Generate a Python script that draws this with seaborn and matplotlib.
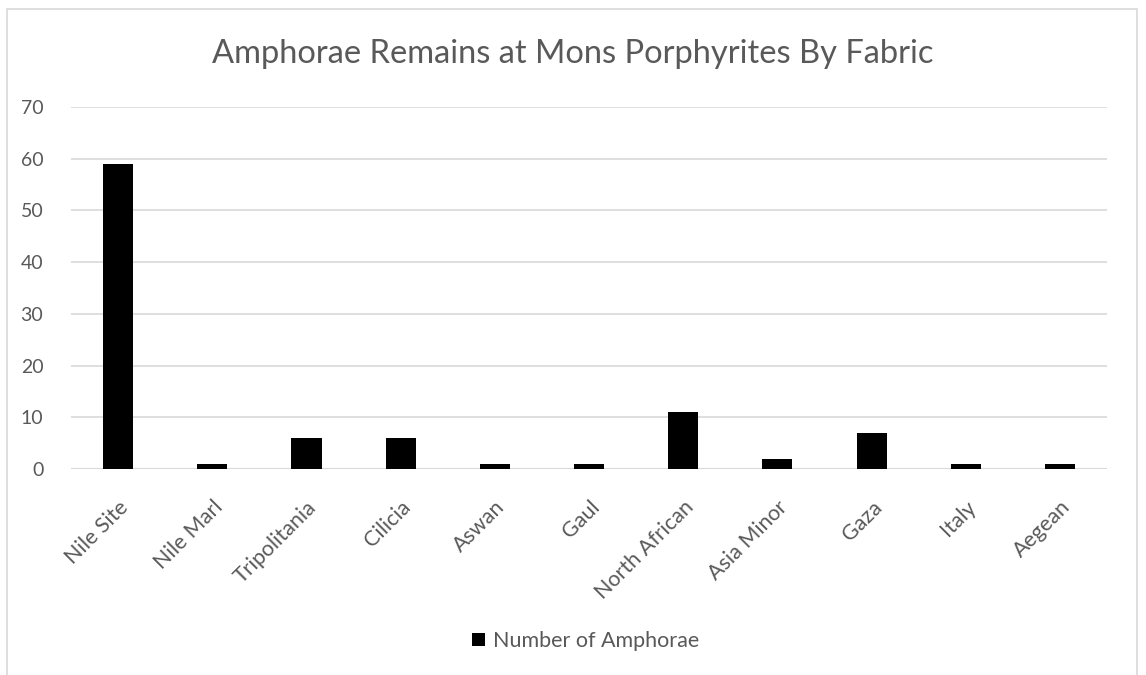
import matplotlib
matplotlib.use("Agg")
import matplotlib.pyplot as plt
import matplotlib.transforms as mtransforms
import seaborn as sns
import pandas as pd
from matplotlib.patches import Rectangle, Patch

categories = ["Nile Site", "Nile Marl", "Tripolitania", "Cilicia", "Aswan", "Gaul",
              "North African", "Asia Minor", "Gaza", "Italy", "Aegean"]
counts = [59, 1, 6, 6, 1, 1, 11, 2, 7, 1, 1]
yticks = [0, 10, 20, 30, 40, 50, 60, 70]
series_name = "Number of Amphorae"
title = "Amphorae Remains at Mons Porphyrites By Fabric"

sns.set_style("white")
plt.rcParams['font.family'] = ['Lato', 'DejaVu Sans']
txt = "#595959"

df = pd.DataFrame({"Fabric": categories, "Count": counts})

fig = plt.figure(figsize=(11.46, 6.75), dpi=100)
ax = fig.add_axes([0.062, 0.305, 0.904, 0.5365])

sns.barplot(data=df, x="Fabric", y="Count", color="black", width=0.32,
            saturation=1, ax=ax, edgecolor="none")

ax.set_ylim(0, 70)
ax.set_xlim(-0.5, len(categories) - 0.5)
ax.set_yticks(yticks)
ax.set_yticklabels([str(v) for v in yticks], fontsize=14, color=txt)
ax.set_xticks(range(len(categories)))
ax.set_xticklabels(categories, rotation=45, ha="right", rotation_mode="anchor",
                   fontsize=15.5, color=txt)
offset = mtransforms.ScaledTranslation(8 / 100, 0, fig.dpi_scale_trans)
for lab in ax.get_xticklabels():
    lab.set_transform(lab.get_transform() + offset)
ax.tick_params(axis="x", length=0, pad=20)
ax.tick_params(axis="y", length=0, pad=20)
ax.set_xlabel("")
ax.set_ylabel("")
ax.yaxis.grid(True, color="#d9d9d9", linewidth=1.2)
ax.set_axisbelow(True)
for s in ax.spines.values():
    s.set_visible(False)
ax.axhline(0, color="#d9d9d9", linewidth=1.5, zorder=0.5)

fig.text(0.5, 1 - 63 / 675, title, ha="center", va="baseline", fontsize=23.5, color=txt)

handle = Patch(facecolor="black", edgecolor="none", label=series_name)
fig.legend(handles=[handle], loc="center", bbox_to_anchor=(0.511, 0.05),
           frameon=False, fontsize=15.5, labelcolor=txt, handlelength=0.6,
           handleheight=0.6, handletextpad=0.4)

fig.patches.append(Rectangle((7 / 1146, -0.01), 1130 / 1146, 1 - 9 / 675 + 0.01,
                             transform=fig.transFigure, fill=False,
                             edgecolor="#d9d9d9", linewidth=1.2))

fig.savefig("out.png", dpi=100, facecolor="white")
